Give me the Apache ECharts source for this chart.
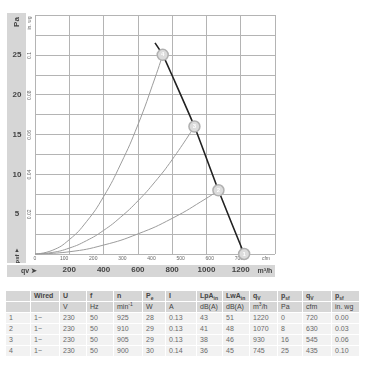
<!DOCTYPE html>
<html><head><meta charset="utf-8">
<script src="https://cdn.jsdelivr.net/npm/echarts@6/dist/echarts.min.js"></script>
<style>
html,body{margin:0;padding:0;background:#fff;width:369px;height:369px;overflow:hidden;font-family:"Liberation Sans",Arial,sans-serif;}
#chart{position:absolute;left:0;top:0;width:369px;height:288px;}
#tbl{position:absolute;left:5px;top:290px;border-collapse:collapse;table-layout:fixed;font-size:7px;color:#6a6a6a;}
#tbl td{border:1px solid #fff;height:10px;padding:0 0 0 3px;line-height:10px;white-space:nowrap;overflow:hidden;}
#tbl tr.h td{background:#d6d6d6;color:#444;}
#tbl tr.h1 td{font-weight:bold;}
#tbl tr.b td{background:#f2f2f2;}
sub,sup{font-size:5px;line-height:0;}
</style></head><body>
<div id="chart"></div>
<table id="tbl"></table>
<script>
// ---- data ----
const qFan = [700, 745, 800, 930, 1070, 1220];
const pFan = [26.5, 25, 22.4, 16, 8, 0];
const q4 = [0, 100, 200, 300, 400, 500, 600, 700, 745];
const p4 = [0, 0.45, 1.8, 4.05, 7.2, 11.3, 16.2, 22.1, 25];
const q3 = [0, 100, 200, 300, 400, 500, 600, 700, 800, 930];
const p3 = [0, 0.19, 0.74, 1.67, 2.96, 4.63, 6.66, 9.06, 11.84, 16];
const q2 = [0, 200, 400, 600, 800, 1000, 1070];
const p2 = [0, 0.28, 1.12, 2.52, 4.47, 6.99, 8];
const opQ = [1220, 1070, 930, 745];
const opP = [0, 8, 16, 25];
const opLabel = ['1', '2', '3', '4'];
const xTicksM3h = [200, 400, 600, 800, 1000, 1200];
const yTicksPa = [5, 10, 15, 20, 25];

// table data
const rowNo = ['1', '2', '3', '4'];
const wired = ['1~', '1~', '1~', '1~'];
const U = [230, 230, 230, 230];
const f = [50, 50, 50, 50];
const n = [925, 910, 905, 900];
const Pe = [28, 29, 29, 30];
const I = ['0.13', '0.13', '0.13', '0.14'];
const LpA = [43, 41, 38, 36];
const LwA = [51, 48, 46, 45];
const qvM3h = [1220, 1070, 930, 745];
const psfPa = [0, 8, 16, 25];
const qvCfm = [720, 630, 545, 435];
const psfInwg = ['0.00', '0.03', '0.06', '0.10'];

// ---- table ----
const colW = [25, 29, 27, 27, 29, 23, 31, 26, 27, 28, 25, 29, 28];
const head1 = ['', 'Wired', 'U', 'f', 'n', 'P<sub>e</sub>', 'I', 'LpA<sub>in</sub>', 'LwA<sub>in</sub>', 'q<sub>V</sub>', 'p<sub>sf</sub>', 'q<sub>V</sub>', 'p<sub>sf</sub>'];
const head2 = ['', '', 'V', 'Hz', 'min<sup>-1</sup>', 'W', 'A', 'dB(A)', 'dB(A)', 'm<sup>3</sup>/h', 'Pa', 'cfm', 'in. wg'];
let html = '<colgroup>' + colW.map(w => '<col style="width:' + w + 'px">').join('') + '</colgroup>';
html += '<tr class="h h1">' + head1.map(t => '<td>' + t + '</td>').join('') + '</tr>';
html += '<tr class="h">' + head2.map(t => '<td>' + t + '</td>').join('') + '</tr>';
for (let i = 0; i < 4; i++) {
  const r = [rowNo[i], wired[i], U[i], f[i], n[i], Pe[i], I[i], LpA[i], LwA[i], qvM3h[i], psfPa[i], qvCfm[i], psfInwg[i]];
  html += '<tr class="b">' + r.map(t => '<td>' + t + '</td>').join('') + '</tr>';
}
document.getElementById('tbl').innerHTML = html;

// ---- chart ----
const zip = (a, b) => a.map((v, i) => [v, b[i]]);
const chart = echarts.init(document.getElementById('chart'), null, {renderer: 'canvas'});
const FONT = '"Liberation Sans", Arial, sans-serif';
const gridCol = '#b4b4b4';
const sysStyle = {color: '#9c9c9c', width: 1};
chart.setOption({
  animation: false,
  backgroundColor: '#fff',
  textStyle: {fontFamily: FONT},
  graphic: [
    {type: 'rect', shape: {x: 7, y: 13, width: 19, height: 250}, style: {fill: '#d6d6d6'}, z: -10},
    {type: 'rect', shape: {x: 7, y: 265, width: 268, height: 12}, style: {fill: '#d6d6d6'}, z: -10},
    {type: 'text', x: 17, y: 22, rotation: Math.PI / 2, style: {text: 'Pa', font: 'bold 8px ' + FONT, fill: '#444', align: 'center', verticalAlign: 'middle'}},
    {type: 'text', x: 30, y: 23, rotation: Math.PI / 2, style: {text: 'in. wg', font: '5px ' + FONT, fill: '#666', align: 'center', verticalAlign: 'middle'}},
    {type: 'text', x: 17, y: 250, style: {text: '▲', font: '6px ' + FONT, fill: '#444', align: 'center', verticalAlign: 'middle'}},
    {type: 'text', x: 17, y: 259, rotation: Math.PI / 2, style: {text: 'psf', font: 'bold 6px ' + FONT, fill: '#444', align: 'center', verticalAlign: 'middle'}},
    {type: 'text', x: 29, y: 271, style: {text: 'qv ➤', font: 'bold 7px ' + FONT, fill: '#444', align: 'center', verticalAlign: 'middle'}},
    {type: 'text', x: 265, y: 271, style: {text: 'm³/h', font: 'bold 7px ' + FONT, fill: '#444', align: 'center', verticalAlign: 'middle'}},
    {type: 'text', x: 266, y: 259, style: {text: 'cfm', font: '5px ' + FONT, fill: '#666', align: 'center', verticalAlign: 'middle'}}
  ],
  grid: {left: 35, top: 15, width: 240, height: 239, containLabel: false},
  xAxis: [
    {type: 'value', min: 0, max: 1400, interval: 200, position: 'bottom',
     axisLine: {show: false}, axisTick: {show: false},
     splitLine: {show: true, lineStyle: {color: gridCol, width: 1}},
     axisLabel: {margin: 12, fontSize: 8, fontWeight: 'bold', color: '#444',
       formatter: v => xTicksM3h.includes(v) ? String(v) : ''}},
    {type: 'value', min: 0, max: 1400 / 1.699, interval: 100, position: 'bottom',
     axisLine: {show: false}, axisTick: {show: false}, splitLine: {show: false},
     axisLabel: {margin: 2, fontSize: 5, color: '#666', showMaxLabel: false,
       formatter: v => (v <= 700 ? String(v) : '')}}
  ],
  yAxis: [
    {type: 'value', min: 0, max: 30, interval: 2.5, position: 'left',
     axisLine: {show: false}, axisTick: {show: false},
     splitLine: {show: true, lineStyle: {color: gridCol, width: 1}},
     axisLabel: {margin: 18, align: 'center', fontSize: 8, fontWeight: 'bold', color: '#444',
       formatter: v => yTicksPa.includes(v) ? String(v) : ''}},
    {type: 'value', min: 0, max: 30 / 249.09, interval: 0.02, position: 'left', offset: 0,
     axisLine: {show: false}, axisTick: {show: false}, splitLine: {show: false},
     axisLabel: {margin: 3, rotate: 90, fontSize: 5, color: '#666', showMaxLabel: false,
       formatter: v => { const r = Math.round(v * 100) / 100; return (r === 0 || r > 0.11) ? '' : String(r); }}}
  ],
  series: [
    {type: 'line', data: zip(q4, p4), smooth: true, symbol: 'none', lineStyle: sysStyle, z: 2},
    {type: 'line', data: zip(q3, p3), smooth: true, symbol: 'none', lineStyle: sysStyle, z: 2},
    {type: 'line', data: zip(q2, p2), smooth: true, symbol: 'none', lineStyle: sysStyle, z: 2},
    {type: 'line', data: zip(qFan, pFan), smooth: 0.2, symbol: 'none', lineStyle: {color: '#222', width: 1.6}, z: 3},
    {type: 'scatter', data: opQ.map((q, i) => ({value: [q, opP[i]], name: opLabel[i]})),
     symbol: 'circle', symbolSize: 11,
     itemStyle: {color: '#dcdcdc', borderColor: '#b0b0b0', borderWidth: 1.5, opacity: 1},
     label: {show: true, position: 'inside', formatter: p => p.name, fontSize: 6, color: '#fff', fontWeight: 'bold'}, z: 5}
  ]
});
</script>
</body></html>
